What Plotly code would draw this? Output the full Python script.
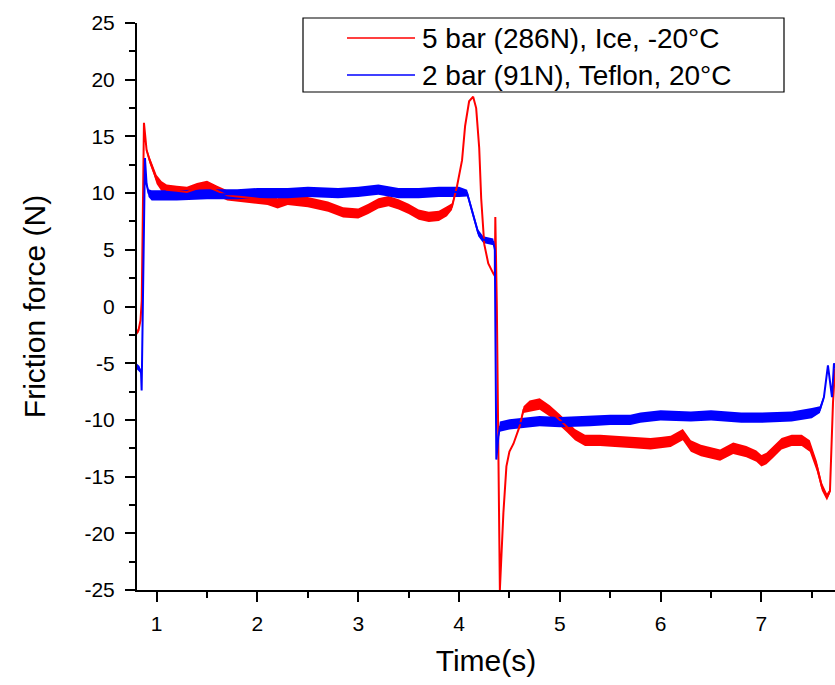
import plotly.graph_objects as go

# ---- data (time in s, friction force in N) ----
# red: 5 bar (286N), Ice, -20°C ; spread = half-thickness of the noise band
ice_t = [0.805, 0.82, 0.84, 0.852, 0.874, 0.90, 0.93, 0.97, 1.00, 1.05, 1.10, 1.2, 1.3, 1.4, 1.5,
         1.6, 1.7, 1.8, 1.9, 2.0, 2.1, 2.2, 2.3, 2.5, 2.7, 2.85, 3.0, 3.1, 3.2, 3.3, 3.4, 3.5,
         3.6, 3.7, 3.8, 3.88, 3.93, 3.98, 4.03, 4.06, 4.10, 4.14, 4.17, 4.20, 4.22, 4.25, 4.29,
         4.34, 4.355, 4.36, 4.375, 4.405, 4.42, 4.44, 4.47, 4.50, 4.54, 4.60, 4.64, 4.70, 4.80,
         4.90, 5.00, 5.07, 5.15, 5.25, 5.40, 5.55, 5.73, 5.9, 6.0, 6.1, 6.22, 6.3, 6.4, 6.5,
         6.59, 6.72, 6.85, 6.95, 7.0, 7.05, 7.11, 7.2, 7.3, 7.4, 7.48, 7.55, 7.60, 7.65, 7.68,
         7.70, 7.71, 7.73]
ice_f = [-2.3, -2.1, -1.2, 0.5, 16.2, 13.8, 12.9, 12.0, 11.2, 10.6, 10.3, 10.2, 10.1, 10.4, 10.6,
         10.2, 9.8, 9.7, 9.6, 9.5, 9.4, 9.1, 9.4, 9.2, 8.8, 8.3, 8.2, 8.6, 9.1, 9.3, 9.0, 8.6,
         8.1, 7.9, 8.0, 8.4, 8.8, 10.6, 12.9, 15.9, 18.1, 18.5, 17.5, 14.0, 9.5, 5.5, 3.8,
         2.9, 2.7, 7.9, 0.0, -25.0, -22.0, -18.2, -14.1, -12.8, -12.1, -10.6, -9.1, -8.8, -8.6,
         -9.2, -10.0, -10.6, -11.3, -11.8, -11.8, -11.9, -12.0, -12.1, -12.0, -11.9, -11.3, -12.3, -12.7, -12.9,
         -13.1, -12.5, -12.8, -13.2, -13.6, -13.4, -12.9, -12.1, -11.8, -11.8, -12.3, -14.1, -15.9, -16.8, -16.3,
         -11.0, -8.5, -5.5]
ice_spread = [0.2, 0.2, 0.1, 0, 0, 0.2, 0.3, 0.35, 0.4, 0.45, 0.45, 0.45, 0.45, 0.5, 0.5,
              0.45, 0.45, 0.45, 0.45, 0.45, 0.45, 0.45, 0.45, 0.45, 0.45, 0.45, 0.45, 0.45, 0.45, 0.45, 0.45, 0.45,
              0.45, 0.45, 0.45, 0.45, 0.3, 0.1, 0, 0, 0, 0, 0, 0, 0, 0, 0,
              0, 0, 0, 0, 0, 0, 0, 0, 0, 0, 0.1, 0.3, 0.5, 0.5,
              0.5, 0.5, 0.5, 0.5, 0.5, 0.5, 0.5, 0.5, 0.5, 0.5, 0.5, 0.5, 0.5, 0.5, 0.5,
              0.5, 0.5, 0.5, 0.5, 0.5, 0.5, 0.5, 0.5, 0.5, 0.5, 0.5, 0.45, 0.35, 0.3, 0.2,
              0, 0, 0]

# blue: 2 bar (91N), Teflon, 20°C
tef_t = [0.805, 0.83, 0.845, 0.851, 0.884, 0.90, 0.92, 0.95, 1.0, 1.2, 1.5, 1.8, 2.0, 2.3, 2.5,
         2.8, 3.0, 3.2, 3.4, 3.6, 3.8, 4.0, 4.08, 4.14, 4.19, 4.24, 4.34, 4.355, 4.37, 4.39,
         4.405, 4.5, 4.8, 5.0, 5.3, 5.5, 5.7, 5.8, 6.0, 6.3, 6.5, 6.8, 7.0, 7.3, 7.5, 7.58,
         7.62, 7.66, 7.70, 7.72, 7.73]
tef_f = [-5.3, -5.5, -5.8, -7.4, 13.1, 10.8, 10.0, 9.8, 9.8, 9.8, 9.9, 9.9, 10.0, 10.0, 10.1,
         10.0, 10.1, 10.3, 10.0, 10.0, 10.1, 10.1, 10.0, 8.2, 6.5, 5.9, 5.7, 5.0, -13.5, -11.5,
         -10.6, -10.4, -10.1, -10.2, -10.1, -10.0, -10.0, -9.8, -9.6, -9.7, -9.6, -9.8, -9.8, -9.7, -9.4, -9.1,
         -8.0, -5.2, -8.0, -5.0, -5.5]
tef_spread = [0.25, 0.25, 0.1, 0, 0, 0.2, 0.35, 0.45, 0.45, 0.45, 0.45, 0.45, 0.45, 0.45, 0.45,
              0.45, 0.45, 0.45, 0.45, 0.45, 0.45, 0.45, 0.3, 0.3, 0.3, 0.3, 0.3, 0, 0, 0.3,
              0.45, 0.45, 0.45, 0.45, 0.45, 0.45, 0.45, 0.45, 0.45, 0.45, 0.45, 0.45, 0.45, 0.45, 0.45, 0.3,
              0.2, 0, 0, 0, 0]

y_ticks = [-25, -20, -15, -10, -5, 0, 5, 10, 15, 20, 25]
y_tick_text = ["-25", "-20", "-15", "-10", "-5", "0", "5", "10", "15", "20", "25"]
x_ticks = [1, 2, 3, 4, 5, 6, 7]

series = [
    ("5 bar (286N), Ice, -20°C", ice_t, ice_f, ice_spread, "#ff0000"),
    ("2 bar (91N), Teflon, 20°C", tef_t, tef_f, tef_spread, "#0000ff"),
]

FONT = "Arial, 'Liberation Sans', sans-serif"

fig = go.Figure()
# noise bands first
for name, t, f, s, col in series:
    upper = [a + b for a, b in zip(f, s)]
    lower = [a - b for a, b in zip(f, s)]
    fig.add_trace(go.Scatter(
        x=t + t[::-1], y=upper + lower[::-1], fill="toself", fillcolor=col,
        line=dict(width=0, color=col), mode="lines", showlegend=False, hoverinfo="skip"))
# centre lines
for name, t, f, s, col in series:
    fig.add_trace(go.Scatter(x=t, y=f, mode="lines", name=name, showlegend=False,
                             line=dict(color=col, width=2)))

axis_common = dict(
    showline=True, linecolor="black", linewidth=2, showgrid=False, zeroline=False,
    ticks="outside", ticklen=10, tickwidth=2, tickcolor="black",
    tickfont=dict(family=FONT, size=21, color="black"),
    mirror=False,
)

fig.update_xaxes(range=[0.805, 7.73], tickvals=x_ticks,
                 minor=dict(dtick=0.5, tick0=0, ticks="outside", ticklen=6, tickwidth=2, tickcolor="black"),
                 title=dict(text="Time(s)", font=dict(family=FONT, size=30, color="black"), standoff=16),
                 ticklabelstandoff=4,
                 **axis_common)
fig.update_yaxes(range=[-25, 25], tickvals=y_ticks, ticktext=y_tick_text,
                 minor=dict(dtick=2.5, tick0=0, ticks="outside", ticklen=6, tickwidth=2, tickcolor="black"),
                 title=dict(text="Friction force (N)", font=dict(family=FONT, size=30, color="black"), standoff=30),
                 ticklabelstandoff=6,
                 **axis_common)

# ---- legend box drawn in pixel coordinates of the figure ----
W, H = 835, 685
ML, MR, MT, MB = 137, 0, 23, 95
PW, PH = W - ML - MR, H - MT - MB


def px(xp):
    return (xp - ML) / PW


def py(yp):
    return (H - MB - yp) / PH


shapes = [dict(type="rect", xref="paper", yref="paper",
               x0=px(303), x1=px(784), y0=py(92), y1=py(18),
               line=dict(color="black", width=1.2), fillcolor="white", layer="above")]
annotations = []
for i, (name, t, f, s, col) in enumerate(series):
    yrow = 38 + i * 37
    shapes.append(dict(type="line", xref="paper", yref="paper",
                       x0=px(347), x1=px(415), y0=py(yrow), y1=py(yrow),
                       line=dict(color=col, width=1.6), layer="above"))
    annotations.append(dict(text=name, xref="paper", yref="paper", x=px(420), y=py(yrow),
                            xanchor="left", yanchor="middle", showarrow=False,
                            font=dict(family=FONT, size=28, color="black")))

fig.update_layout(
    width=W, height=H,
    margin=dict(l=ML, r=MR, t=MT, b=MB),
    plot_bgcolor="white", paper_bgcolor="white",
    font=dict(family=FONT, color="black"),
    showlegend=False,
    shapes=shapes, annotations=annotations,
)

fig.write_html("out.html")
